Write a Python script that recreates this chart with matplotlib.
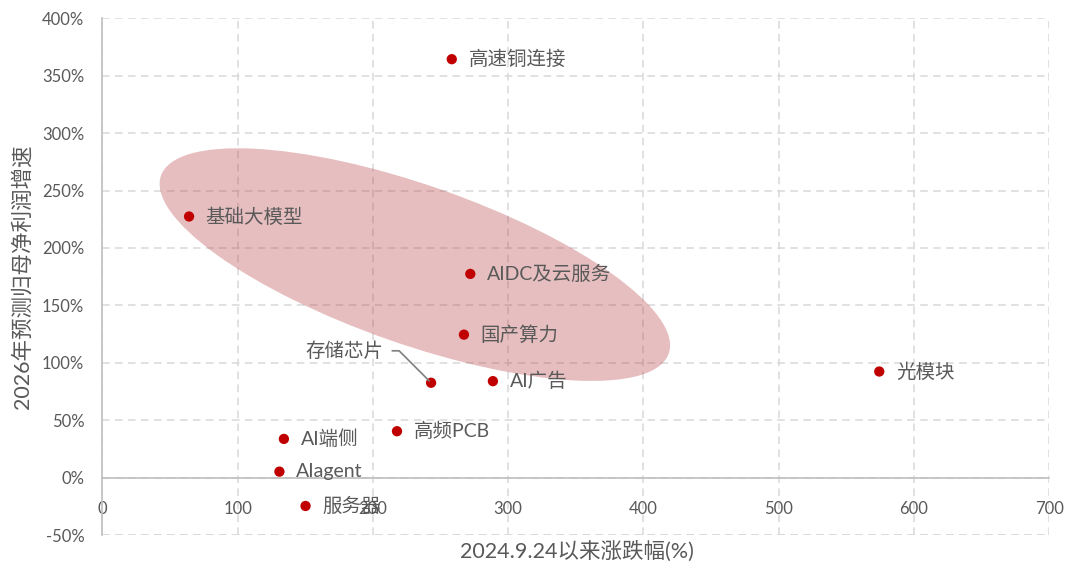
import matplotlib
matplotlib.use("Agg")
import matplotlib.pyplot as plt
from matplotlib.patches import Ellipse
from matplotlib.transforms import ScaledTranslation

plt.rcParams['font.family'] = ['Lato', 'Noto Sans CJK SC', 'DejaVu Sans']

# ---- data ----
names = ['高速铜连接', '基础大模型', 'AIDC及云服务', '国产算力', '存储芯片', 'AI广告',
         '光模块', '高频PCB', 'AI端侧', 'AIagent', '服务器']
gain = [258.3, 64.1, 272.0, 267.3, 243.0, 288.7, 574.3, 217.8, 134.2, 130.9, 150.2]
growth = [364.4, 227.4, 177.4, 124.5, 82.6, 84.0, 92.4, 40.4, 33.7, 5.2, -24.7]
x_ticks = [0, 100, 200, 300, 400, 500, 600, 700]
y_ticks = [-50, 0, 50, 100, 150, 200, 250, 300, 350, 400]
x_label = '2024.9.24以来涨跌幅(%)'
y_label = '2026年预测归母净利润增速'
highlight_center = (231.0, 185.5)

TXT = '#595959'
GRID = '#D9D9D9'
RED = '#C00000'

fig = plt.figure(figsize=(10.74, 5.67), dpi=100)
ax = fig.add_axes([0.0953, 0.0564, 0.8817, 0.9113])

ax.set_xlim(x_ticks[0], x_ticks[-1])
ax.set_ylim(y_ticks[0], y_ticks[-1])
ax.set_xticks(x_ticks)
ax.set_yticks(y_ticks)
ax.set_yticklabels([f'{v}%' for v in y_ticks])

ax.grid(True, color=GRID, linestyle=(0, (5, 3.5)), linewidth=1.1)
ax.set_axisbelow(True)
for s in ['top', 'right']:
    ax.spines[s].set_visible(False)
ax.spines['left'].set_color('#BFBFBF')
ax.spines['left'].set_linewidth(1.2)
ax.spines['bottom'].set_position(('data', 0))
ax.spines['bottom'].set_color('#BFBFBF')
ax.spines['bottom'].set_linewidth(1.2)
ax.tick_params(axis='both', length=0, colors=TXT, labelsize=12)
ax.tick_params(axis='x', pad=17)
ax.tick_params(axis='y', pad=13)
ax.axhline(y_ticks[0], color=GRID, linestyle=(0, (5, 3.5)), linewidth=1.1, zorder=0.5)

# highlight ellipse (size in inches, centred in data coords)
trans = fig.dpi_scale_trans + ScaledTranslation(highlight_center[0], highlight_center[1], ax.transData)
ell = Ellipse((0, 0), 5.38, 1.59, angle=-19.3, transform=trans,
              facecolor=(0.72, 0.27, 0.29), alpha=0.35, edgecolor='none', zorder=1)
ax.add_patch(ell)

ax.scatter(gain, growth, s=55, color=RED, zorder=3, edgecolors='none')

for n, x, y in zip(names, gain, growth):
    if n == '存储芯片':
        ax.annotate(n, xy=(x, y), xytext=(-34, 23), textcoords='offset points',
                    ha='right', va='center', fontsize=14, color=TXT,
                    arrowprops=dict(arrowstyle='-', color='#7F7F7F', lw=1.2,
                                    shrinkA=4, shrinkB=2,
                                    connectionstyle='angle,angleA=0,angleB=-45,rad=0'),
                    zorder=4)
    else:
        ax.annotate(n, xy=(x, y), xytext=(12, 0), textcoords='offset points',
                    ha='left', va='center', fontsize=14, color=TXT, zorder=4)

fig.text(577 / 1074, 1 - 552 / 567, x_label, fontsize=15.5, color=TXT,
         ha='center', va='center')
fig.text(22 / 1074, 1 - 277 / 567, y_label, fontsize=15.5, color=TXT,
         ha='center', va='center', rotation=90)

fig.savefig('out.png', dpi=100)
